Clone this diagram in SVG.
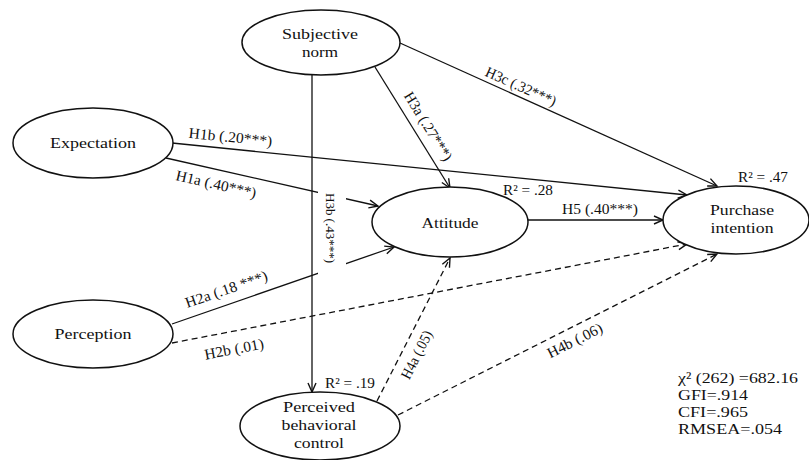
<svg xmlns="http://www.w3.org/2000/svg" width="809" height="460" viewBox="0 0 809 460">
  <style>
    .node ellipse { fill: #ffffff; stroke: #111111; stroke-width: 1.5; }
    .node text { font-family: "Liberation Serif", "Times New Roman", serif; font-size: 15.5px; fill: #111111; text-anchor: middle; }
    .edge { fill: none; stroke: #111111; stroke-width: 1.3; }
    .dashed { stroke-dasharray: 6 4; }
    .lbl { font-family: "Liberation Serif", "Times New Roman", serif; font-size: 15px; fill: #111111; text-anchor: middle; }
    .note { font-family: "Liberation Serif", "Times New Roman", serif; font-size: 15px; fill: #111111; }
    .fit { font-family: "Liberation Serif", "Times New Roman", serif; font-size: 15.5px; fill: #111111; }
  </style>
  <defs>
    <marker id="arrow" markerUnits="userSpaceOnUse" markerWidth="12" markerHeight="12" viewBox="-10 -5 12 10" refX="0" refY="0" orient="auto">
      <path d="M-9,-4 L0,0 L-9,4" fill="none" stroke="#111111" stroke-width="1.4" stroke-dasharray="none"/>
    </marker>
  </defs>
  <rect width="809" height="460" fill="#ffffff"/>

  <!-- paths between constructs -->
  <g id="connectors">
    <path id="e-h3b" class="edge" d="M312,75 L312,392" marker-end="url(#arrow)"/>
    <path id="e-h3a" class="edge" d="M375,67 L450,188" marker-end="url(#arrow)"/>
    <path id="e-h3c" class="edge" d="M400,43 L717,186" marker-end="url(#arrow)"/>
    <path id="e-h1b" class="edge" d="M172,143 L687,195" marker-end="url(#arrow)"/>
    <path id="e-h1a" class="edge" d="M166,158 L378,206" marker-end="url(#arrow)"/>
    <path id="e-h2a" class="edge" d="M172,324 L394,247" marker-end="url(#arrow)"/>
    <path id="e-h2b" class="edge dashed" d="M172,343 L687,244" marker-end="url(#arrow)"/>
    <path id="e-h4a" class="edge dashed" d="M377,401 L450,258" marker-end="url(#arrow)"/>
    <path id="e-h4b" class="edge dashed" d="M398,415 L717,254" marker-end="url(#arrow)"/>
    <path id="e-h5" class="edge" d="M528,220 L663,220" marker-end="url(#arrow)"/>
  </g>

  <!-- path coefficients -->
  <g id="edge-labels">
    <g id="l-h3b">
      <rect x="318" y="188" width="28" height="90" fill="#ffffff"/>
      <text class="lbl" style="font-size:13.5px" transform="translate(326,228) rotate(90)" textLength="70" lengthAdjust="spacingAndGlyphs">H3b (.43***)</text>
    </g>
    <text class="lbl" transform="translate(424,129) rotate(58.2)" textLength="78" lengthAdjust="spacingAndGlyphs">H3a (.27***)</text>
    <text class="lbl" transform="translate(519,91) rotate(24.1)" textLength="76" lengthAdjust="spacingAndGlyphs">H3c (.32***)</text>
    <text class="lbl" transform="translate(230,142) rotate(5.8)" textLength="84" lengthAdjust="spacingAndGlyphs">H1b (.20***)</text>
    <text class="lbl" transform="translate(215,189) rotate(12.8)" textLength="82" lengthAdjust="spacingAndGlyphs">H1a (.40***)</text>
    <text class="lbl" transform="translate(228,294) rotate(-19.1)" textLength="86" lengthAdjust="spacingAndGlyphs">H2a (.18 ***)</text>
    <text class="lbl" transform="translate(235,354) rotate(-10.9)" textLength="60" lengthAdjust="spacingAndGlyphs">H2b (.01)</text>
    <text class="lbl" transform="translate(421,357) rotate(-63)" textLength="52" lengthAdjust="spacingAndGlyphs">H4a (.05)</text>
    <text class="lbl" transform="translate(577,345) rotate(-26.6)" textLength="60" lengthAdjust="spacingAndGlyphs">H4b (.06)</text>
    <text class="lbl" x="600" y="214" textLength="76" lengthAdjust="spacingAndGlyphs">H5 (.40***)</text>
  </g>

  <!-- constructs -->
  <g id="subjective-norm" class="node">
    <ellipse cx="321" cy="42.5" rx="79" ry="32.5"/>
    <text x="320" y="38.5" textLength="76" lengthAdjust="spacingAndGlyphs">Subjective</text>
    <text x="320" y="56.5" textLength="36" lengthAdjust="spacingAndGlyphs">norm</text>
  </g>
  <g id="expectation" class="node">
    <ellipse cx="93" cy="143" rx="80" ry="35"/>
    <text x="93" y="148" textLength="86" lengthAdjust="spacingAndGlyphs">Expectation</text>
  </g>
  <g id="perception" class="node">
    <ellipse cx="93" cy="334" rx="80" ry="34"/>
    <text x="93" y="339" textLength="77" lengthAdjust="spacingAndGlyphs">Perception</text>
  </g>
  <g id="attitude" class="node">
    <ellipse cx="450" cy="222" rx="78" ry="35"/>
    <text x="450" y="228" textLength="57" lengthAdjust="spacingAndGlyphs">Attitude</text>
  </g>
  <g id="purchase-intention" class="node">
    <ellipse cx="736" cy="220" rx="73" ry="34"/>
    <text x="742" y="215" textLength="64" lengthAdjust="spacingAndGlyphs">Purchase</text>
    <text x="742" y="233" textLength="63" lengthAdjust="spacingAndGlyphs">intention</text>
  </g>
  <g id="perceived-behavioral-control" class="node">
    <ellipse cx="320" cy="426" rx="80" ry="34"/>
    <text x="319" y="412" textLength="72" lengthAdjust="spacingAndGlyphs">Perceived</text>
    <text x="319" y="430" textLength="75" lengthAdjust="spacingAndGlyphs">behavioral</text>
    <text x="319" y="448" textLength="50" lengthAdjust="spacingAndGlyphs">control</text>
  </g>

  <!-- explained variance -->
  <g id="r-squared">
    <text class="note" x="503" y="195" textLength="50" lengthAdjust="spacingAndGlyphs">R² = .28</text>
    <text class="note" x="738" y="182" textLength="50" lengthAdjust="spacingAndGlyphs">R² = .47</text>
    <text class="note" x="325" y="388" textLength="50" lengthAdjust="spacingAndGlyphs">R² = .19</text>
  </g>

  <!-- model fit -->
  <g id="fit-indices">
    <text class="fit" x="678" y="383" textLength="120" lengthAdjust="spacingAndGlyphs">χ² (262) =682.16</text>
    <text class="fit" x="678" y="400" textLength="70" lengthAdjust="spacingAndGlyphs">GFI=.914</text>
    <text class="fit" x="678" y="417" textLength="70" lengthAdjust="spacingAndGlyphs">CFI=.965</text>
    <text class="fit" x="678" y="434" textLength="104" lengthAdjust="spacingAndGlyphs">RMSEA=.054</text>
  </g>
</svg>
